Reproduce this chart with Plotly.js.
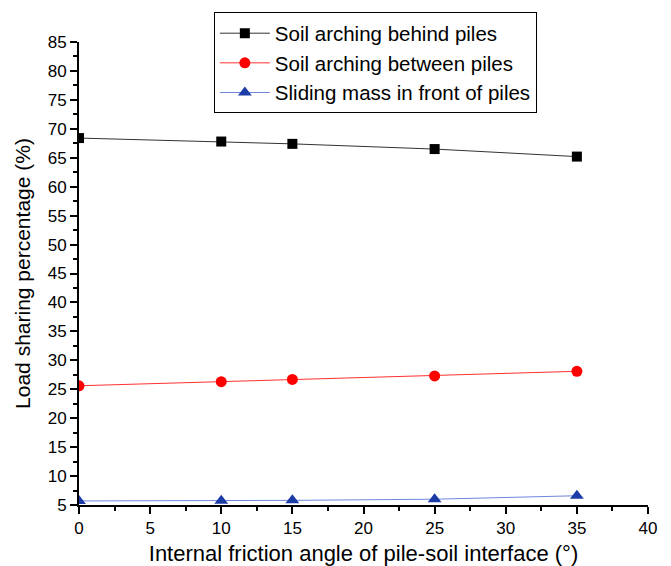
<!DOCTYPE html>
<html>
<head>
<meta charset="utf-8">
<script src="https://cdn.plot.ly/plotly-3.0.1.min.js"></script>
<style>body{margin:0;padding:0;background:#fff;}#chart{width:671px;height:566px;}</style>
</head>
<body>
<div id="chart"></div>
<script>
const angles = [0, 10, 15, 25, 35];
const behindPiles = [68.4, 67.8, 67.4, 66.5, 65.2];
const betweenPiles = [25.6, 26.3, 26.7, 27.3, 28.1];
const slidingMass = [5.7, 5.75, 5.8, 6.0, 6.6];
const seriesNames = ["Soil arching behind piles", "Soil arching between piles", "Sliding mass in front of piles"];
const xTicks = [0, 5, 10, 15, 20, 25, 30, 35, 40];
const yTicks = [5, 10, 15, 20, 25, 30, 35, 40, 45, 50, 55, 60, 65, 70, 75, 80, 85];

const traces = [
  {x: angles, y: behindPiles, name: seriesNames[0], mode: 'lines+markers',
   line: {color: '#333333', width: 1}, marker: {symbol: 'square', size: 10, color: '#000000'}},
  {x: angles, y: betweenPiles, name: seriesNames[1], mode: 'lines+markers',
   line: {color: '#ff3030', width: 1}, marker: {symbol: 'circle', size: 11, color: '#ff0000'}},
  {x: angles, y: slidingMass, name: seriesNames[2], mode: 'lines+markers',
   line: {color: '#6f86dd', width: 1}, marker: {symbol: 'triangle-up', size: 12, color: '#1b3ba6'}}
];

const font = {family: 'Liberation Sans, Arial, sans-serif', color: '#000'};
const layout = {
  width: 671, height: 566,
  margin: {l: 79, r: 23, t: 38, b: 61},
  paper_bgcolor: '#fff', plot_bgcolor: '#fff',
  font: Object.assign({size: 17}, font),
  showlegend: true,
  legend: {x: 0.237, y: 1.064, xanchor: 'left', yanchor: 'top',
    bordercolor: '#000', borderwidth: 1, bgcolor: '#fff',
    font: Object.assign({size: 20.5}, font), tracegroupgap: 0, itemwidth: 50},
  xaxis: {range: [0, 40], tickvals: xTicks, ticktext: xTicks.map(String),
    showgrid: false, zeroline: false, showline: true, linecolor: '#000', linewidth: 2,
    ticks: 'outside', ticklen: 7, tickwidth: 2, tickcolor: '#000',
    minor: {dtick: 2.5, ticks: 'outside', ticklen: 4, tickwidth: 2, tickcolor: '#000', showgrid: false},
    tickfont: Object.assign({size: 17}, font),
    title: {text: 'Internal friction angle of pile-soil interface (°)', font: Object.assign({size: 22}, font), standoff: 9}},
  yaxis: {range: [5, 85], tickvals: yTicks, ticktext: yTicks.map(String),
    showgrid: false, zeroline: false, showline: true, linecolor: '#000', linewidth: 2,
    ticks: 'outside', ticklen: 7, tickwidth: 2, tickcolor: '#000',
    minor: {dtick: 2.5, ticks: 'outside', ticklen: 4, tickwidth: 2, tickcolor: '#000', showgrid: false},
    tickfont: Object.assign({size: 17}, font),
    title: {text: 'Load sharing percentage (%)', font: Object.assign({size: 21}, font), standoff: 11}}
};

Plotly.newPlot('chart', traces, layout, {displayModeBar: false, staticPlot: true});
</script>
</body>
</html>
